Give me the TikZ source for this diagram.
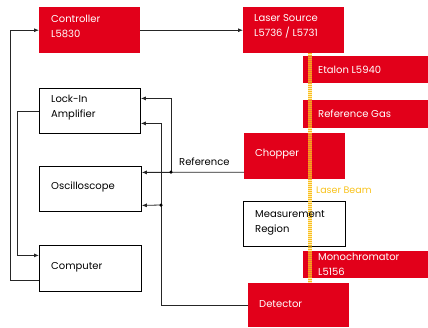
\documentclass[tikz,border=0pt]{standalone}
\usepackage{fontspec}
\setmainfont{Poppins}
\usetikzlibrary{arrows.meta}
\definecolor{lred}{HTML}{E2001A}
\definecolor{beam}{HTML}{F8C21C}
\definecolor{beamdash}{HTML}{FAB800}
\definecolor{beamlight}{HTML}{FFD868}
\tikzset{
  box/.style={anchor=north west, inner sep=0pt},
  redbox/.style={box, fill=lred},
  whitebox/.style={box, draw=black, line width=0.8pt, fill=white},
  boxtext/.style={anchor=west, inner sep=0pt, align=left, font=\fontsize{10}{15}\selectfont},
  redtext/.style={boxtext, text=white},
  conn/.style={draw=black!85, line width=0.8pt},
  arr/.style={conn, -{Latex[length=5pt,width=4pt]}},
  junction/.style={circle, fill=black, inner sep=0pt, minimum size=3.5pt}
}
\begin{document}
\begin{tikzpicture}[x=1pt,y=-1pt]
\useasboundingbox (0,0) rectangle (428,327);
% red boxes
\node[redbox, minimum width=101pt, minimum height=46pt] (ctrl) at (39,7) {};
\node[redbox, minimum width=101pt, minimum height=46pt] (laser) at (243,7) {};
\node[redbox, minimum width=125pt, minimum height=27pt] (etalon) at (303,56) {};
\node[redbox, minimum width=125pt, minimum height=28pt] (refgas) at (303,100) {};
\node[redbox, minimum width=101pt, minimum height=46pt] (chop) at (244,133) {};
\node[whitebox, minimum width=102pt, minimum height=45pt] (meas) at (243,201) {};
\node[redbox, minimum width=125pt, minimum height=27pt] (mono) at (303,251) {};
\node[redbox, minimum width=101pt, minimum height=44pt] (det) at (248,283) {};
% white boxes
\node[whitebox, minimum width=101pt, minimum height=45pt] (lockin) at (39,88) {};
\node[whitebox, minimum width=102pt, minimum height=45pt] (osc) at (39,166) {};
\node[whitebox, minimum width=102pt, minimum height=46pt] (comp) at (39,245) {};
% laser beam
\coordinate (beamtop) at (309.5,53);
\coordinate (beambot) at (309.5,283);
\draw[beamlight, line width=4pt, opacity=0.5] (beamtop) -- (beambot);
\draw[beamdash, line width=4pt, dash pattern=on 1pt off 1pt, opacity=0.85] (beamtop) -- (beambot);
\node[anchor=west, text=beam, font=\fontsize{9.5}{11}\selectfont, inner sep=0pt] (beamlabel) at (316,190) {Laser Beam};
% box texts
\node[redtext] (ctrlt) at ([xshift=12pt,yshift=3.5pt]ctrl.west) {Controller\\L5830};
\node[redtext] (lasert) at ([xshift=11pt,yshift=3.5pt]laser.west) {Laser Source\\L5736 / L5731};
\node[redtext] (etalont) at ([xshift=15pt]etalon.west) {Etalon L5940};
\node[redtext] (refgast) at ([xshift=15pt]refgas.west) {Reference Gas};
\node[redtext] (chopt) at ([xshift=11pt,yshift=2pt]chop.west) {Chopper};
\node[boxtext] (meast) at ([xshift=12pt,yshift=1pt]meas.west) {Measurement\\Region};
\node[redtext] (monot) at ([xshift=15pt]mono.west) {Monochromator\\L5156};
\node[redtext] (dett) at ([xshift=11pt,yshift=1pt]det.west) {Detector};
\node[boxtext] (lockint) at ([xshift=12pt,yshift=3pt]lockin.west) {Lock-In\\Amplifier};
\node[boxtext] (osct) at ([xshift=12pt,yshift=1.5pt]osc.west) {Oscilloscope};
\node[boxtext] (compt) at ([xshift=12pt,yshift=1pt]comp.west) {Computer};
% connectors
\draw[arr] ([yshift=-12pt]comp.west) -- ++(-29,0) |- (ctrl.west);
\draw[arr] (ctrl.east) -- (laser.west);
\draw[arr] (lockin.west) -- ++(-22,0) |- ([yshift=13pt]comp.west);
\coordinate (refdot) at (171,172);
\coordinate (detdot) at (161,205);
\draw[arr] ([yshift=-16pt]chop.west) -- ([yshift=16.5pt]osc.east);
\draw[arr] (refdot) |- ([yshift=12.5pt]lockin.east);
\draw[arr] (det.west) -- ++(-87,0) |- ([yshift=-12.5pt]lockin.east);
\draw[arr] (detdot) -- ([yshift=-16.5pt]osc.east);
\node[junction] (rj) at (refdot) {};
\node[junction] (dj) at (detdot) {};
\node[anchor=south west, inner sep=0pt, font=\fontsize{10}{12}\selectfont] (reflabel) at (179,166) {Reference};
\end{tikzpicture}
\end{document}
